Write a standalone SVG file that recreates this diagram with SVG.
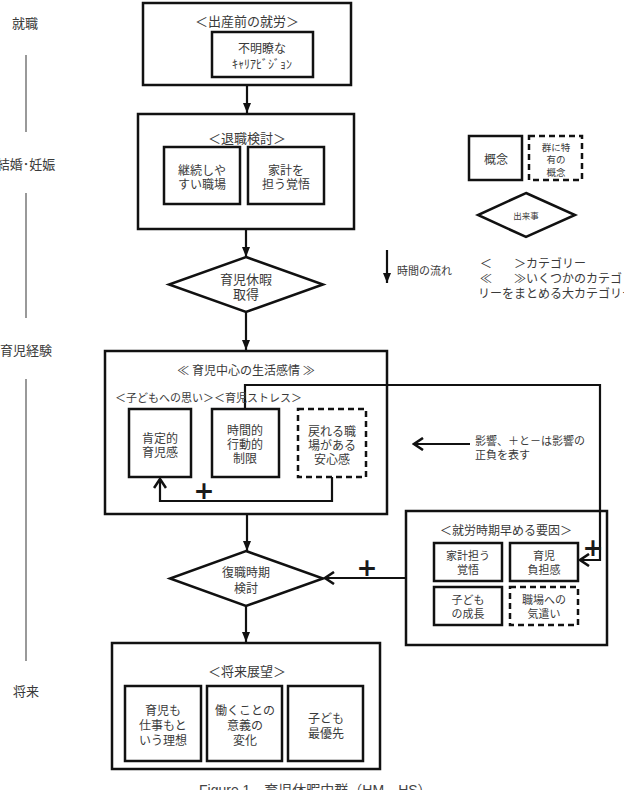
<svg xmlns="http://www.w3.org/2000/svg" width="624" height="790" viewBox="0 0 624 790">
<style>
text{font-family:"Noto Sans CJK JP","Noto Sans",sans-serif;fill:#3a3a3a;text-anchor:middle;dominant-baseline:central}
.box{fill:#fff;stroke:#111;stroke-width:2.5}
.dash{fill:#fff;stroke:#111;stroke-width:2.5;stroke-dasharray:6 4}
.frame{fill:none;stroke:#111;stroke-width:2.5}
.t13{font-size:13px}
.t12{font-size:12px}
.t11{font-size:11px}
.con{fill:none;stroke:#111;stroke-width:2.2}
.tl{stroke:#555;stroke-width:1.2}
.plus{font-family:"DejaVu Sans",sans-serif;font-size:25px;font-weight:bold;fill:#1a1a1a}
.lt{text-anchor:start}
</style>
<defs>
<marker id="tri" markerUnits="userSpaceOnUse" markerWidth="10" markerHeight="10" viewBox="0 0 10 10" refX="10" refY="5" orient="auto">
<path d="M0,1 L10,5 L0,9 Z" fill="#111"/>
</marker>
<marker id="chev" markerUnits="userSpaceOnUse" markerWidth="14" markerHeight="14" viewBox="0 0 14 14" refX="12" refY="7" orient="auto">
<path d="M3,1 L12,7 L3,13" fill="none" stroke="#111" stroke-width="2.6"/>
</marker>
</defs>

<g id="timeline">
<text class="t13" x="25" y="22">就職</text>
<line class="tl" x1="26" y1="55" x2="26" y2="132"/>
<text class="t13" x="26" y="163">結婚･妊娠</text>
<line class="tl" x1="26" y1="193" x2="26" y2="318"/>
<text class="t13" x="26" y="349">育児経験</text>
<line class="tl" x1="26" y1="379" x2="26" y2="661"/>
<text class="t13" x="26" y="690">将来</text>
</g>

<g id="connectors">
<line class="con" x1="247" y1="85" x2="247" y2="113" marker-end="url(#tri)"/>
<line class="con" x1="246" y1="229" x2="246" y2="257" marker-end="url(#tri)"/>
<line class="con" x1="246" y1="312" x2="246" y2="350" marker-end="url(#tri)"/>
<line class="con" x1="247" y1="514" x2="247" y2="551" marker-end="url(#tri)"/>
<line class="con" x1="246" y1="606" x2="246" y2="642" marker-end="url(#tri)"/>
<polyline class="con" points="332,477 332,501 160,501 160,479" marker-end="url(#chev)"/>
<text class="plus" x="204" y="490">+</text>
<polyline class="con" points="245,409 245,385 600,385 600,560 580,560" marker-end="url(#chev)"/>
<text class="plus" x="593" y="547">+</text>
<line class="con" x1="406" y1="578" x2="325" y2="578" marker-end="url(#chev)"/>
<text class="plus" x="367" y="567">+</text>
</g>

<g id="n-shussan">
<rect class="box" x="143" y="3" width="208" height="82"/>
<text class="t13" x="247" y="20">＜出産前の就労＞</text>
<rect class="box" x="212" y="32" width="101" height="45"/>
<text class="t12" x="262" y="47">不明瞭な</text>
<text class="t12" x="262" y="63">ｷｬﾘｱﾋﾞｼﾞｮﾝ</text>
</g>

<g id="n-taishoku">
<rect class="box" x="138" y="114" width="216" height="115"/>
<text class="t13" x="247" y="137">＜退職検討＞</text>
<rect class="box" x="164" y="147" width="76" height="57"/>
<text class="t12" x="202" y="169">継続しや</text>
<text class="t12" x="202" y="183">すい職場</text>
<rect class="box" x="248" y="147" width="76" height="57"/>
<text class="t12" x="286" y="169">家計を</text>
<text class="t12" x="286" y="183">担う覚悟</text>
</g>

<g id="n-ikukyu">
<polygon class="box" points="246,257 323,284.5 246,312 169,284.5"/>
<text class="t13" x="246" y="278">育児休暇</text>
<text class="t13" x="246" y="293">取得</text>
</g>

<g id="n-seikatsu">
<rect class="frame" x="105" y="351" width="282" height="163"/>
<text class="t12" x="246" y="369">≪ 育児中心の生活感情 ≫</text>
<text class="t11 lt" x="115" y="397">＜子どもへの思い＞＜育児ストレス＞</text>
<rect class="box" x="129" y="409" width="62" height="68"/>
<text class="t12" x="160" y="437">肯定的</text>
<text class="t12" x="160" y="451">育児感</text>
<rect class="box" x="212" y="409" width="67" height="68"/>
<text class="t12" x="245" y="429">時間的</text>
<text class="t12" x="245" y="443">行動的</text>
<text class="t12" x="245" y="457">制限</text>
<rect class="dash" x="298" y="409" width="68" height="68"/>
<text class="t12" x="332" y="430">戻れる職</text>
<text class="t12" x="332" y="444">場がある</text>
<text class="t12" x="332" y="458">安心感</text>
</g>

<g id="n-fukushoku">
<polygon class="box" points="246,551 323,578.5 246,606 170,578.5"/>
<text class="t12" x="246" y="571">復職時期</text>
<text class="t12" x="246" y="587">検討</text>
</g>

<g id="n-youin">
<rect class="frame" x="406" y="511" width="201" height="134"/>
<text class="t12" x="506" y="529">＜就労時期早める要因＞</text>
<rect class="box" x="434" y="543" width="68" height="38"/>
<text class="t11" x="468" y="555">家計担う</text>
<text class="t11" x="468" y="569">覚悟</text>
<rect class="box" x="510" y="543" width="68" height="38"/>
<text class="t11" x="544" y="555">育児</text>
<text class="t11" x="544" y="569">負担感</text>
<rect class="box" x="434" y="587" width="68" height="38"/>
<text class="t11" x="468" y="599">子ども</text>
<text class="t11" x="468" y="613">の成長</text>
<rect class="dash" x="510" y="587" width="68" height="38"/>
<text class="t11" x="544" y="599">職場への</text>
<text class="t11" x="544" y="613">気遣い</text>
</g>

<g id="n-shorai">
<rect class="frame" x="112" y="643" width="268" height="126"/>
<text class="t13" x="247" y="670">＜将来展望＞</text>
<rect class="box" x="125" y="686" width="76" height="75"/>
<text class="t12" x="163" y="709">育児も</text>
<text class="t12" x="163" y="724">仕事もと</text>
<text class="t12" x="163" y="739">いう理想</text>
<rect class="box" x="207" y="686" width="75" height="75"/>
<text class="t12" x="245" y="709">働くことの</text>
<text class="t12" x="245" y="724">意義の</text>
<text class="t12" x="245" y="739">変化</text>
<rect class="box" x="288" y="686" width="75" height="75"/>
<text class="t12" x="326" y="717">子ども</text>
<text class="t12" x="326" y="732">最優先</text>
</g>

<g id="legend">
<rect class="box" x="469" y="136" width="53" height="44"/>
<text class="t12" x="496" y="158">概念</text>
<rect class="dash" x="529" y="136" width="53" height="44"/>
<text x="556" y="147" style="font-size:9.5px">群に特</text>
<text x="556" y="159" style="font-size:9.5px">有の</text>
<text x="556" y="172" style="font-size:9.5px">概念</text>
<polygon class="box" points="526,193 575,215 526,237 478,215"/>
<text x="526" y="215" style="font-size:8.5px">出来事</text>
<line class="con" x1="387" y1="250" x2="387" y2="283" marker-end="url(#tri)"/>
<text class="t11 lt" x="397" y="270">時間の流れ</text>
<text class="t12 lt" x="480" y="262">＜</text>
<text class="t12 lt" x="514" y="262">＞カテゴリー</text>
<text class="t12 lt" x="480" y="277">≪</text>
<text class="t12 lt" x="514" y="277">≫いくつかのカテゴ</text>
<text class="t12 lt" x="478" y="292">リーをまとめる大カテゴリー</text>
<line class="con" x1="470" y1="444" x2="414" y2="444" marker-end="url(#chev)"/>
<text class="t11 lt" x="475" y="440">影響、＋と－は影響の</text>
<text class="t11 lt" x="475" y="454">正負を表す</text>
</g>

<text class="lt" x="199" y="795" style="dominant-baseline:auto;font-family:'Liberation Sans','Noto Sans CJK JP',sans-serif;font-size:14px;fill:#444">Figure 1　育児休暇中群（HM、HS）</text>
</svg>
